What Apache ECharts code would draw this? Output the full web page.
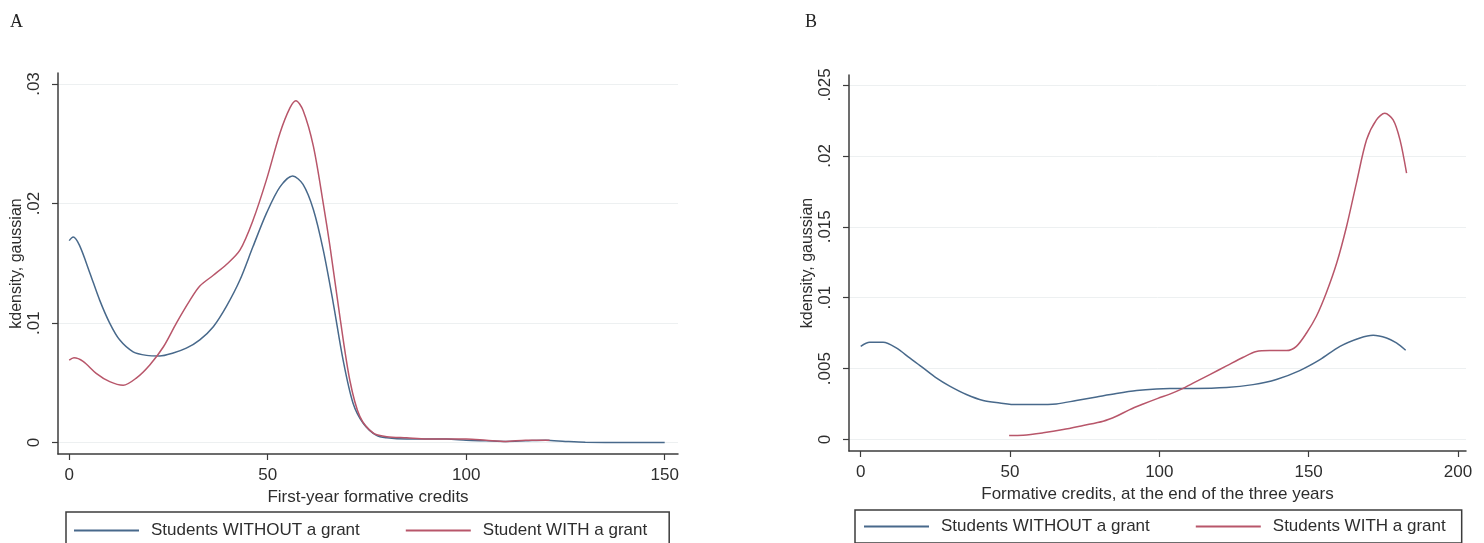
<!DOCTYPE html>
<html>
<head>
<meta charset="utf-8">
<title>kdensity of formative credits</title>
<script src="https://cdn.jsdelivr.net/npm/echarts@6/dist/echarts.min.js"></script>
<style>
    html, body { margin: 0; padding: 0; background: #fff; }
    #chart { width: 1484px; height: 543px; }
</style>
</head>
<body>
<div id="chart"></div>
<script>
(function () {
    'use strict';

    /********************** data **********************/
    // panel A : first-year formative credits, [credits, density]
    var firstYearWithout = [
        [0, 0.0169], [1, 0.0172], [2.6, 0.0165], [5.2, 0.0142], [7.7, 0.0119],
        [10.2, 0.0100], [12.7, 0.0086], [16.1, 0.0076], [19.5, 0.0073], [22.8, 0.00725],
        [26.2, 0.0075], [29.5, 0.0079], [32.9, 0.0086], [36.3, 0.0097], [39.6, 0.0114],
        [43.0, 0.0136], [46.3, 0.0164], [49.7, 0.0192], [53.1, 0.0214], [56.3, 0.0223],
        [58.9, 0.0216], [61.5, 0.0195], [64.0, 0.0161], [66.5, 0.0117], [69.0, 0.0069],
        [71.5, 0.0033], [74.1, 0.0016], [77.4, 0.0006], [80, 0.0004], [85, 0.0003],
        [90, 0.0003], [95, 0.0003], [100, 0.0002], [105, 0.00015], [110, 0.0001],
        [115, 0.00015], [120, 0.0002], [125, 0.0001], [130, 0.00003], [140, 0.00002],
        [150, 0.00002]
    ];
    var firstYearWith = [
        [0, 0.0069], [1.2, 0.0071], [3.5, 0.0068], [6.8, 0.0058], [10.2, 0.0051],
        [13.6, 0.0048], [16.9, 0.0054], [20.3, 0.0065], [23.7, 0.0080], [27.0, 0.0100],
        [30.4, 0.0119], [32.9, 0.0131], [36.3, 0.0140], [39.6, 0.0149], [43.0, 0.0161],
        [46.3, 0.0186], [49.7, 0.0220], [53.1, 0.0259], [55.6, 0.0280], [57.1, 0.0286],
        [58.9, 0.0278], [61.5, 0.0248], [64.0, 0.0200], [65.7, 0.0164], [68.2, 0.0105],
        [70.7, 0.0052], [73.2, 0.0022], [76.6, 0.0008], [80, 0.0005], [85, 0.0004],
        [90, 0.0003], [95, 0.0003], [100, 0.0003], [105, 0.0002], [110, 0.0001],
        [115, 0.0002], [121, 0.0002]
    ];

    // panel B : credits at the end of the three years
    var threeYearWithout = [
        [0, 0.00657], [3, 0.00685], [7.5, 0.00685], [11.9, 0.00646], [16.4, 0.00575],
        [20.9, 0.00505], [25.3, 0.00434], [29.8, 0.00376], [35.4, 0.00317], [41.0, 0.00275],
        [46.6, 0.00258], [52.1, 0.00246], [58.8, 0.00246], [65.5, 0.00251], [72.2, 0.00275],
        [79.0, 0.00300], [85.6, 0.00324], [92.4, 0.00345], [99.0, 0.00357], [103.5, 0.00360],
        [111.3, 0.00360], [122.5, 0.00366], [131.4, 0.00387], [139.2, 0.00423], [147.0, 0.00486],
        [153.8, 0.00563], [160.5, 0.00657], [167.2, 0.00716], [171.6, 0.00735], [176.1, 0.00716],
        [179.4, 0.00681], [182.5, 0.00629]
    ];
    var threeYearWith = [
        [49.7, 0.00028], [54.4, 0.00030], [61.1, 0.00047], [67.8, 0.00070], [74.5, 0.00099],
        [81.2, 0.00129], [85.6, 0.00164], [90.1, 0.00211], [94.6, 0.00250], [99.5, 0.00290],
        [103.5, 0.00320], [107.6, 0.00357], [111.3, 0.00397], [116.9, 0.00458], [122.5, 0.00519],
        [128.1, 0.00580], [132.5, 0.00620], [137.0, 0.00627], [142.6, 0.00627], [145.9, 0.00657],
        [149.3, 0.00751], [152.6, 0.00869], [155.9, 0.01033], [159.4, 0.01244], [162.7, 0.01502],
        [166.0, 0.01808], [169.4, 0.02113], [172.7, 0.02254], [175.5, 0.02300], [178.3, 0.02254],
        [180.6, 0.02113], [182.8, 0.01878]
    ];

    // tick labels
    var xTicksA = [0, 50, 100, 150];
    var yTicksA = [0, 0.01, 0.02, 0.03];
    var xTicksB = [0, 50, 100, 150, 200];
    var yTicksB = [0, 0.005, 0.01, 0.015, 0.02, 0.025];

    var nameWithout = 'Students WITHOUT a grant';
    var nameWithA = 'Student WITH a grant';
    var nameWithB = 'Students WITH a grant';

    /********************** styling **********************/
    var SANS = "'Liberation Sans', Arial, sans-serif";
    var BLUE = '#48698b';
    var RED = '#b8566a';
    var AXIS = '#3c3c3c';
    var TEXT = '#2e2e2e';
    var GRIDLINE = '#edf0f1';

    // stata style labels: .01 instead of 0.01
    function tickFmt(v) {
        return v === 0 ? '0' : String(v).replace(/^0\./, '.');
    }

    function xAxis(grid, min, max, ticks, title) {
        return {
            gridIndex: grid, type: 'value', min: min, max: max,
            axisLine: {show: true, onZero: false, lineStyle: {color: AXIS, width: 1.5}},
            axisTick: {show: true, customValues: ticks, length: 6, lineStyle: {color: AXIS, width: 1.2}},
            axisLabel: {customValues: ticks, margin: 13, color: TEXT, fontFamily: SANS, fontSize: 17},
            splitLine: {show: false},
            name: title, nameLocation: 'middle', nameGap: 26,
            nameTextStyle: {color: TEXT, fontFamily: SANS, fontSize: 17}
        };
    }

    function yAxis(grid, min, max, ticks) {
        return {
            gridIndex: grid, type: 'value', min: min, max: max,
            axisLine: {show: true, onZero: false, lineStyle: {color: AXIS, width: 1.5}},
            axisTick: {show: true, customValues: ticks, length: 6, lineStyle: {color: AXIS, width: 1.2}},
            axisLabel: {customValues: ticks, rotate: 90, margin: 15, formatter: tickFmt,
                        color: TEXT, fontFamily: SANS, fontSize: 17},
            splitLine: {show: true, lineStyle: {color: GRIDLINE, width: 1}},
            name: 'kdensity, gaussian', nameLocation: 'middle', nameRotate: 90, nameGap: 33,
            nameTextStyle: {color: TEXT, fontFamily: SANS, fontSize: 16}
        };
    }

    function line(name, idx, data, color) {
        return {
            name: name, type: 'line', xAxisIndex: idx, yAxisIndex: idx,
            data: data, symbol: 'none', showSymbol: false, smooth: 0.3, silent: true,
            lineStyle: {color: color, width: 1.5}, itemStyle: {color: color}
        };
    }

    // boxed legend under each panel, plain line samples
    function legend(left, top, names, gap, pad) {
        return {
            data: names, left: left, top: top, orient: 'horizontal',
            selectedMode: false, icon: 'rect', itemWidth: 65, itemHeight: 2, itemGap: gap,
            padding: pad, borderColor: AXIS, borderWidth: 1.5, borderRadius: 0,
            textStyle: {color: TEXT, fontFamily: SANS, fontSize: 17, padding: [0, 0, 0, 7]}
        };
    }

    var chart = echarts.init(document.getElementById('chart'));

    chart.setOption({
        animation: false,
        backgroundColor: '#fff',
        title: [
            {text: 'A', left: 5, top: 8,
             textStyle: {fontFamily: "'Liberation Serif', serif", fontSize: 18, fontWeight: 'normal', color: '#222'}},
            {text: 'B', left: 800, top: 8,
             textStyle: {fontFamily: "'Liberation Serif', serif", fontSize: 18, fontWeight: 'normal', color: '#222'}}
        ],
        grid: [
            {left: 58, top: 73, right: 806, bottom: 89},
            {left: 849, top: 75, right: 18, bottom: 92}
        ],
        xAxis: [
            xAxis(0, -2.82, 153.35, xTicksA, 'First-year formative credits'),
            xAxis(1, -3.92, 202.7, xTicksB, 'Formative credits, at the end of the three years')
        ],
        yAxis: [
            yAxis(0, -0.00095, 0.03092, yTicksA),
            yAxis(1, -0.00081, 0.0257, yTicksB)
        ],
        legend: [
            legend(66, 512, [nameWithout, nameWithA], 46, [10, 22, 10, 8]),
            legend(855, 510, [nameWithout, nameWithB], 46, [8, 16, 8, 9])
        ],
        series: [
            line(nameWithout, 0, firstYearWithout, BLUE),
            line(nameWithA, 0, firstYearWith, RED),
            line(nameWithout, 1, threeYearWithout, BLUE),
            line(nameWithB, 1, threeYearWith, RED)
        ]
    });
})();
</script>
</body>
</html>
